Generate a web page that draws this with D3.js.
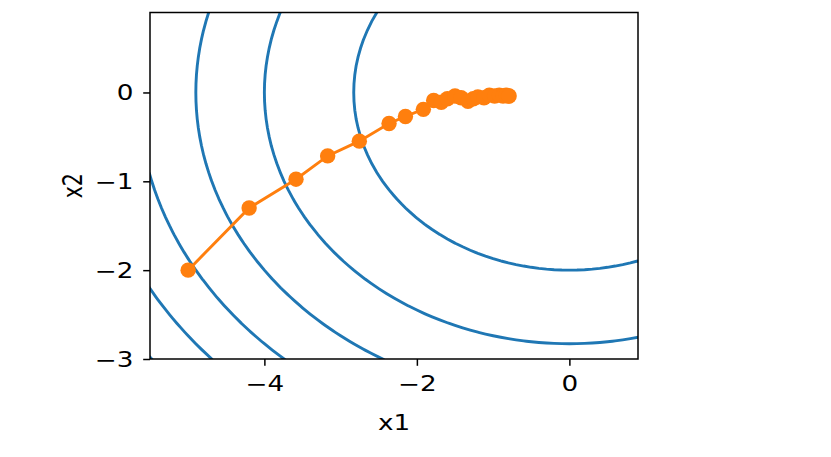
<!DOCTYPE html>
<html>
<head>
<meta charset="utf-8">
<script src="https://cdn.jsdelivr.net/npm/d3@7"></script>
<style>
  html, body { margin: 0; padding: 0; background: #fff; }
  svg { display: block; }
</style>
</head>
<body>
<svg id="chart" width="831" height="457"></svg>
<script>
// ---- data ----
const xDomain = [-5.5, 0.9];
const yDomain = [-3.0, 0.9];
const gridStep = 0.1;
const contourLevels = [8, 16, 24, 32, 40, 48];
const xTicks = [-4, -2, 0];
const yTicks = [-3, -2, -1, 0];
const xLabel = "x1";
const yLabel = "x2";
// SGD trajectory
const trajX1 = [-5.0, -4.20, -3.585, -3.17, -2.755, -2.365, -2.15, -1.915, -1.78, -1.68, -1.60, -1.50,
                -1.42, -1.33, -1.26, -1.20, -1.12, -1.05, -0.98, -0.92, -0.87, -0.83, -0.80, -0.79];
const trajX2 = [-2.0, -1.30, -0.976, -0.714, -0.548, -0.349, -0.27, -0.19, -0.09, -0.11, -0.07, -0.04,
                -0.06, -0.10, -0.07, -0.05, -0.06, -0.03, -0.04, -0.03, -0.04, -0.03, -0.04, -0.04];
// objective f(x1, x2) = x1^2 + 2*x2^2
const f = (a, b) => a * a + 2 * b * b;

// ---- layout ----
const FONT = "'DejaVu Sans', sans-serif";
const FS = 20.5;      // font size px
const SX = 1.28;      // horizontal stretch of glyphs in the reference
const svg = d3.select("#chart");
const L = 150, R = 638, T = 12.5, B = 359;
const x = d3.scaleLinear().domain(xDomain).range([L, R]);
const y = d3.scaleLinear().domain(yDomain).range([B, T]);

svg.append("defs").append("clipPath").attr("id", "clip")
  .append("rect").attr("x", L).attr("y", T).attr("width", R - L).attr("height", B - T);

// contour grid
const nx = Math.round((xDomain[1] - xDomain[0]) / gridStep) + 1;
const ny = Math.round((yDomain[1] - yDomain[0]) / gridStep) + 1;
const values = new Array(nx * ny);
for (let j = 0; j < ny; j++) {
  for (let i = 0; i < nx; i++) {
    values[j * nx + i] = f(xDomain[0] + i * gridStep, yDomain[0] + j * gridStep);
  }
}
const contours = d3.contours().size([nx, ny]).thresholds(contourLevels)(values);
const proj = d3.geoTransform({
  point: function(px, py) {
    const dx = xDomain[0] + (px - 0.5) * gridStep;
    const dy = yDomain[0] + (py - 0.5) * gridStep;
    this.stream.point(x(dx), y(dy));
  }
});
const path = d3.geoPath(proj);

const plot = svg.append("g").attr("clip-path", "url(#clip)");
plot.selectAll("path.contour").data(contours).join("path")
  .attr("class", "contour")
  .attr("d", path)
  .attr("fill", "none")
  .attr("stroke", "#1f77b4")
  .attr("stroke-width", 2.9);

// trajectory
const pts = trajX1.map((v, i) => [v, trajX2[i]]);
plot.append("path")
  .datum(pts)
  .attr("d", d3.line().x(d => x(d[0])).y(d => y(d[1])))
  .attr("fill", "none")
  .attr("stroke", "#ff7f0e")
  .attr("stroke-width", 2.9);
plot.selectAll("circle").data(pts).join("circle")
  .attr("cx", d => x(d[0])).attr("cy", d => y(d[1]))
  .attr("r", 7.7)
  .attr("fill", "#ff7f0e");

// axes
const fmt = d => (d < 0 ? "\u2212" : "") + Math.abs(d);
const xAxis = d3.axisBottom(x).tickValues(xTicks).tickSize(6.8).tickFormat(fmt);
const yAxis = d3.axisLeft(y).tickValues(yTicks).tickSize(6.8).tickFormat(fmt);

const gx = svg.append("g").attr("transform", `translate(0,${B})`).call(xAxis);
const gy = svg.append("g").attr("transform", `translate(${L},0)`).call(yAxis);
[gx, gy].forEach(g => {
  g.select(".domain").remove();
  g.selectAll(".tick line").attr("stroke", "#000").attr("stroke-width", 1.5);
  g.selectAll(".tick text").attr("fill", "#000")
    .attr("font-size", FS).attr("font-family", FONT)
    .style("font-size", FS + "px").style("font-family", FONT);
});
gx.selectAll(".tick text").attr("y", 32.5).attr("dy", null)
  .attr("transform", `scale(${SX},1)`);
gy.selectAll(".tick text").attr("x", -16.5 / SX).attr("dy", "0.36em")
  .attr("transform", `scale(${SX},1)`);

// frame
svg.append("rect").attr("x", L).attr("y", T).attr("width", R - L).attr("height", B - T)
  .attr("fill", "none").attr("stroke", "#000").attr("stroke-width", 1.5);

// labels
svg.append("text")
  .attr("transform", `translate(${(L + R) / 2},430) scale(${SX},1)`)
  .attr("text-anchor", "middle")
  .attr("font-family", FONT).attr("font-size", FS).attr("fill", "#000")
  .text(xLabel);
svg.append("text")
  .attr("transform", `translate(82,${(T + B) / 2}) scale(${SX},1) rotate(-90)`)
  .attr("text-anchor", "middle")
  .attr("font-family", FONT).attr("font-size", FS).attr("fill", "#000")
  .text(yLabel);
</script>
</body>
</html>
